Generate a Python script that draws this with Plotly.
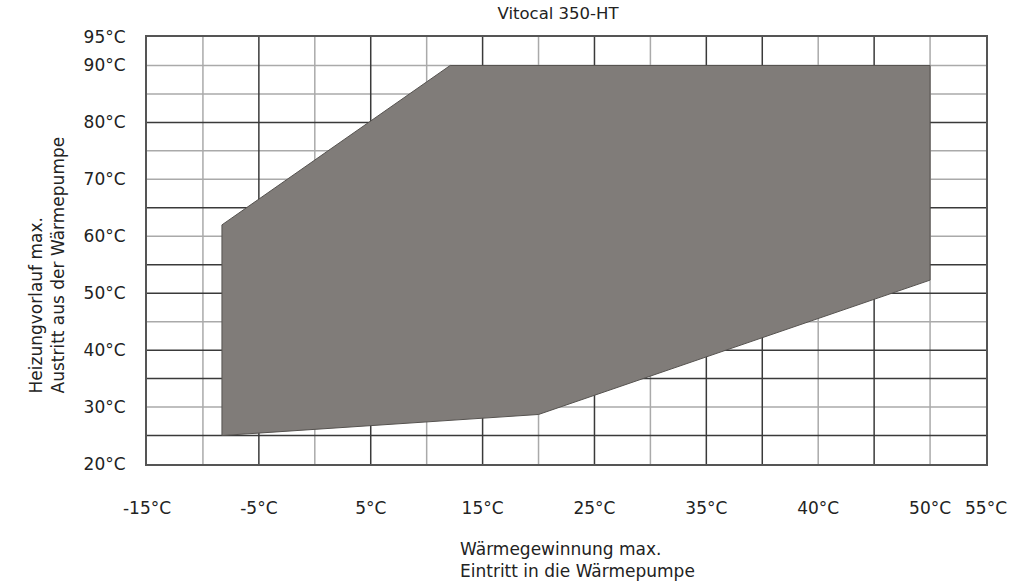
import plotly.graph_objects as go

# ---- data (x in the chart's uniform 5-degree grid units) ----
region_x = [-8.3, 12.1, 55, 55, 20, -8.3, -8.3]
region_y = [62, 90, 90, 52.3, 28.7, 25, 62]

x_tickvals = [-15, -5, 5, 15, 25, 35, 45, 55, 60]
x_ticktext = ["-15°C", "-5°C", "5°C", "15°C", "25°C", "35°C", "40°C", "50°C", "55°C"]
y_tickvals = [20, 30, 40, 50, 60, 70, 80, 90, 95]
y_ticktext = ["20°C", "30°C", "40°C", "50°C", "60°C", "70°C", "80°C", "90°C", "95°C"]

title_text = "Vitocal 350-HT"
x_title = "Wärmegewinnung max.<br>Eintritt in die Wärmepumpe"
y_title = "Heizungvorlauf max.<br>Austritt aus der Wärmepumpe"

# ---- grid styling (dark / light lines as in the scan) ----
x_grid_dark = [-5, 5, 15, 25, 35, 40, 50]
x_grid_light = [-10, 0, 10, 20, 30, 45, 55]
y_grid_dark = [25, 35, 40, 50, 55, 65, 80]
y_grid_light = [30, 45, 60, 70, 75, 85, 90]

FONT = "DejaVu Sans"
DARK = "#3a3a3a"
LIGHT = "#aaaaaa"

fig = go.Figure()
fig.add_trace(go.Scatter(
    x=region_x, y=region_y, mode="lines", fill="toself",
    fillcolor="#807c79", line=dict(color="#55524f", width=1),
    hoverinfo="skip", showlegend=False,
))

shapes = []
for v in x_grid_light:
    shapes.append(dict(type="line", xref="x", yref="y domain", x0=v, x1=v, y0=0, y1=1,
                       line=dict(color=LIGHT, width=1.5), layer="below"))
for v in y_grid_light:
    shapes.append(dict(type="line", xref="x domain", yref="y", x0=0, x1=1, y0=v, y1=v,
                       line=dict(color=LIGHT, width=1.5), layer="below"))
for v in x_grid_dark:
    shapes.append(dict(type="line", xref="x", yref="y domain", x0=v, x1=v, y0=0, y1=1,
                       line=dict(color=DARK, width=1.5), layer="below"))
for v in y_grid_dark:
    shapes.append(dict(type="line", xref="x domain", yref="y", x0=0, x1=1, y0=v, y1=v,
                       line=dict(color=DARK, width=1.5), layer="below"))

fig.update_layout(
    width=1030, height=586,
    margin=dict(l=147, r=44, t=37, b=122),
    paper_bgcolor="white", plot_bgcolor="white",
    font=dict(family=FONT, size=17, color="#222222"),
    title=dict(text=title_text, xref="container", x=558 / 1030, xanchor="center",
               y=1 - 13 / 586, yanchor="middle",
               font=dict(family=FONT, size=16.5, color="#222222")),
    shapes=shapes,
    xaxis=dict(range=[-15, 60], tickmode="array", tickvals=x_tickvals, ticktext=x_ticktext,
               showgrid=False, zeroline=False, showline=True, mirror=True,
               linecolor="#555555", linewidth=2, ticks="", ticklabelstandoff=28,
               tickfont=dict(family=FONT, size=17, color="#222222")),
    yaxis=dict(range=[20, 95], tickmode="array", tickvals=y_tickvals, ticktext=y_ticktext,
               showgrid=False, zeroline=False, showline=True, mirror=True,
               linecolor="#555555", linewidth=2, ticks="", ticklabelstandoff=16,
               tickfont=dict(family=FONT, size=17, color="#222222")),
    annotations=[
        dict(text=x_title, xref="paper", yref="paper", x=(458 - 147) / 839, y=(464 - 560) / 427,
             xanchor="left", yanchor="middle", align="left", showarrow=False,
             font=dict(family=FONT, size=17, color="#222222")),
        dict(text=y_title, xref="paper", yref="paper", x=(46 - 147) / 839, y=(464 - 396) / 427,
             xanchor="center", yanchor="bottom", align="left", textangle=-90, showarrow=False,
             font=dict(family=FONT, size=17, color="#222222")),
    ],
)

fig.write_html("out.html")
